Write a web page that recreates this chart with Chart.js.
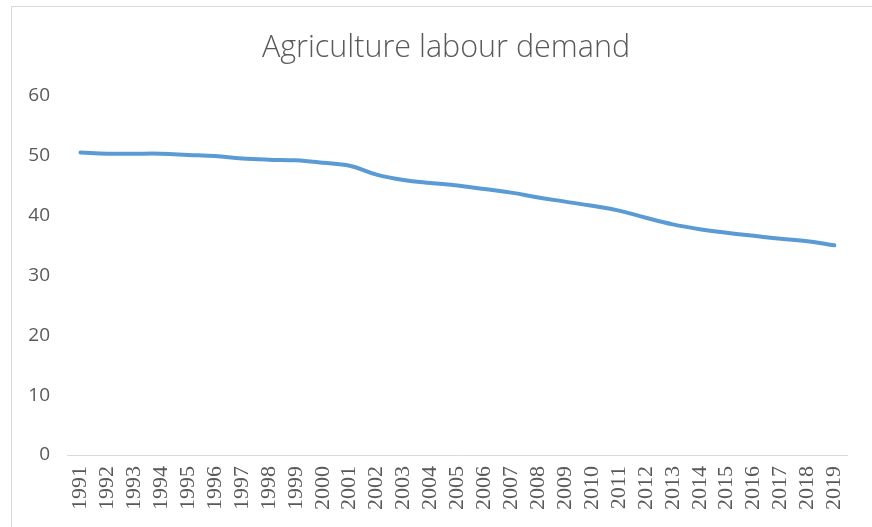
<!DOCTYPE html>
<html>
<head>
<meta charset="utf-8">
<script src="https://cdn.jsdelivr.net/npm/chart.js@4"></script>
<style>
  html, body { margin: 0; padding: 0; background: #fff; }
  #wrap { position: relative; width: 872px; height: 527px; }
  #frame { position: absolute; left: 11px; top: 6px; right: -2px; bottom: -2px; border-left: 1px solid #d9d9d9; border-top: 1px solid #d9d9d9; pointer-events: none; }
  canvas { display: block; }
</style>
</head>
<body>
<div id="wrap">
  <canvas id="c" width="872" height="527"></canvas>
  <div id="frame"></div>
</div>
<script>
const chartTitle = "Agriculture labour demand";
const years = ["1991","1992","1993","1994","1995","1996","1997","1998","1999","2000",
  "2001","2002","2003","2004","2005","2006","2007","2008","2009","2010",
  "2011","2012","2013","2014","2015","2016","2017","2018","2019"];
const labourDemand = [50.5, 50.3, 50.3, 50.3, 50.1, 49.9, 49.5, 49.3, 49.2, 48.8,
  48.3, 46.8, 45.9, 45.4, 45.0, 44.4, 43.8, 43.0, 42.3, 41.6,
  40.8, 39.6, 38.5, 37.7, 37.1, 36.6, 36.1, 35.7, 35.0];
const yMin = 0, yMax = 60, yStep = 10;

const shiftTitle = {
  id: 'shiftTitle',
  afterLayout(chart) {
    if (chart.titleBlock) { chart.titleBlock.left = 35; }
  }
};

new Chart(document.getElementById('c'), {
  type: 'line',
  data: {
    labels: years,
    datasets: [{
      label: chartTitle,
      data: labourDemand,
      borderColor: '#5b9bd5',
      backgroundColor: '#5b9bd5',
      borderWidth: 4,
      pointRadius: 0,
      tension: 0.4,
      borderCapStyle: 'round',
      fill: false
    }]
  },
  plugins: [shiftTitle],
  options: {
    responsive: false,
    animation: false,
    devicePixelRatio: 1,
    layout: { padding: { left: 12, right: 15, top: 0, bottom: 0 } },
    plugins: {
      legend: { display: false },
      tooltip: { enabled: false },
      title: {
        display: true,
        text: chartTitle,
        color: '#595959',
        font: { family: "'Open Sans', sans-serif", size: 30.5, weight: 300, lineHeight: 1.2 },
        padding: { top: 30, bottom: 29 }
      }
    },
    scales: {
      x: {
        offset: true,
        grid: { display: false, drawTicks: false },
        border: { display: true, color: '#d9d9d9', width: 1 },
        ticks: {
          autoSkip: false,
          minRotation: 90,
          maxRotation: 90,
          padding: 11,
          color: '#595959',
          font: { family: "'Liberation Serif', serif", size: 22 }
        },
        afterFit: (s) => { s.height = 72; }
      },
      y: {
        min: yMin,
        max: yMax,
        grid: { display: false, drawTicks: false },
        border: { display: false },
        ticks: {
          stepSize: yStep,
          padding: 17,
          color: '#595959',
          font: { family: "'Open Sans', sans-serif", size: 19 }
        },
        afterFit: (s) => { s.width = 55; }
      }
    }
  }
});
</script>
</body>
</html>
